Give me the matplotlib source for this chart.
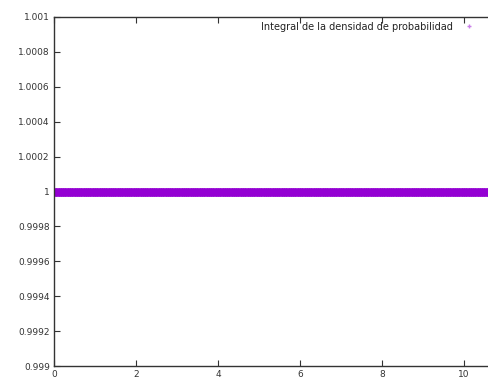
import numpy as np
import matplotlib
matplotlib.use("Agg")
import matplotlib.pyplot as plt

# time grid of the simulation and integral of |psi|^2 at each step
t_start, t_stop, t_step = 0.0, 12.0, 0.01
t = np.arange(t_start, t_stop, t_step)
integral = np.full(t.shape, 1.0)

x_ticks = [0, 2, 4, 6, 8, 10]
y_ticks = [0.999, 0.9992, 0.9994, 0.9996, 0.9998, 1.0, 1.0002, 1.0004, 1.0006, 1.0008, 1.001]
y_labels = ["0.999", "0.9992", "0.9994", "0.9996", "0.9998", "1",
            "1.0002", "1.0004", "1.0006", "1.0008", "1.001"]
label = "Integral de la densidad de probabilidad"

W, H = 488, 383
fig = plt.figure(figsize=(W / 100, H / 100), dpi=100)
# plot area runs past the right edge of the canvas
ax = fig.add_axes([54 / W, 17 / H, 492 / W, 349 / H])

color = "#9400d3"
ax.plot(t, integral, linestyle="none", marker="+", markersize=5.5,
        markeredgewidth=1.0, color=color, label=label)

ax.set_xlim(0, 12)
ax.set_ylim(0.999, 1.001)
ax.set_xticks(x_ticks)
ax.set_yticks(y_ticks)
ax.set_yticklabels(y_labels)

for s in ax.spines.values():
    s.set_color("#333333")
    s.set_linewidth(1.0)
ax.tick_params(direction="in", length=4, width=0.8, color="#333333",
               labelsize=6.5, labelcolor="#333333", top=True, right=True, pad=3)

leg = ax.legend(loc="upper right", bbox_to_anchor=(478 / W, 1 - 18 / H),
                bbox_transform=fig.transFigure, frameon=False, markerfirst=False,
                fontsize=7, handlelength=1.0, handletextpad=1.2,
                borderaxespad=0, markerscale=0.6)
for txt in leg.get_texts():
    txt.set_color("#222222")
for h in leg.legend_handles:
    h.set_alpha(0.5)

fig.savefig("out.png", dpi=100)
